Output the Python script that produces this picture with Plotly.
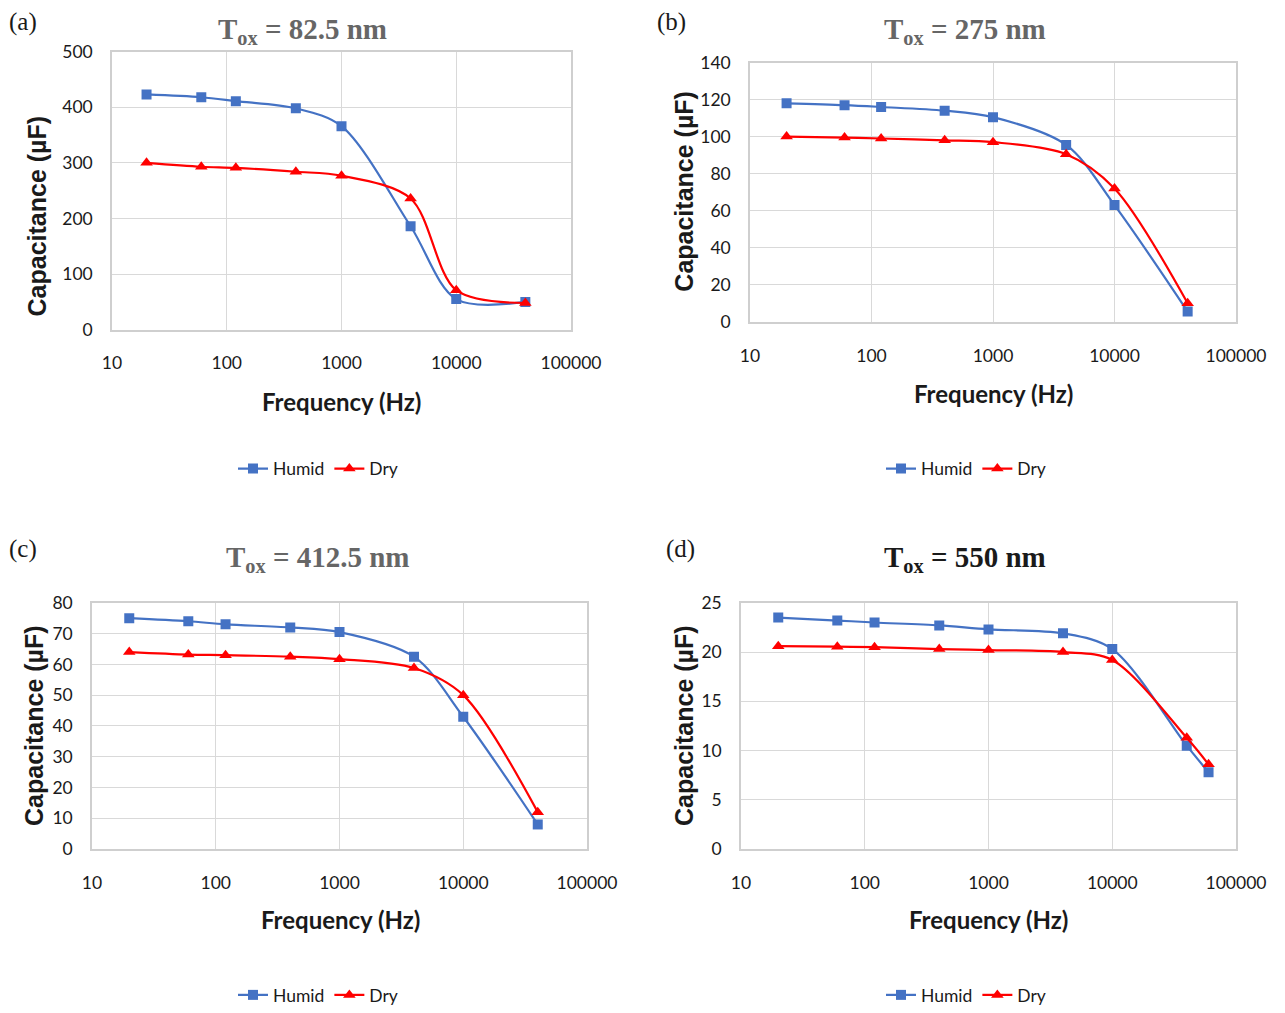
import plotly.graph_objects as go

# Measurement frequencies (Hz)
freq_abc = [20, 60, 120, 400, 1000, 4000, 10000, 40000]
freq_d = [20, 60, 120, 400, 1000, 4000, 10000, 40000, 60000]

# Capacitance (uF) for each oxide thickness
humid_a = [423, 418, 411, 398, 366, 186, 55, 50]
dry_a = [300, 293, 291, 284, 277, 236, 71, 48]

humid_b = [118, 117, 116, 114, 110.5, 95.5, 63, 5.5]
dry_b = [100, 99.5, 99, 98, 97, 90.5, 72, 10]

humid_c = [75, 74, 73, 72, 70.5, 62.5, 43, 8]
dry_c = [64, 63.2, 63, 62.5, 61.7, 58.8, 50, 12]

humid_d = [23.5, 23.2, 23.0, 22.7, 22.3, 21.9, 20.3, 10.5, 7.8]
dry_d = [20.6, 20.55, 20.5, 20.3, 20.2, 20.0, 19.2, 11.3, 8.6]

panel_letters = ["(a)", "(b)", "(c)", "(d)"]
panel_titles = ["82.5 nm", "275 nm", "412.5 nm", "550 nm"]
title_colors = ["#666666", "#666666", "#666666", "#1a1a1a"]
x_tick_vals = [10, 100, 1000, 10000, 100000]
x_tick_text = ["10", "100", "1000", "10000", "100000"]
y_ranges = [(0, 500, 100), (0, 140, 20), (0, 80, 10), (0, 25, 5)]

W, H = 1285, 1013

# Panel geometry in pixels: (left, right, top, bottom)
boxes = [
    (112, 571, 52, 332),
    (750, 1236, 63, 324),
    (92, 587, 607, 855),
    (741, 1236, 607, 855),
]
title_pos = [(302, 31), (965, 31), (317, 563), (965, 563)]
letter_pos = [(23, 22), (671, 22), (23, 553), (680, 553)]
ytitle_pos = [(37, 218), (684, 193), (34, 731), (684, 731)]
xtitle_pos = [(341, 404), (993, 396), (340, 926), (988, 926)]
legend_pos = [(318, 472), (966, 472), (318, 1002), (966, 1002)]

series = [
    (freq_abc, humid_a, dry_a),
    (freq_abc, humid_b, dry_b),
    (freq_abc, humid_c, dry_c),
    (freq_d, humid_d, dry_d),
]

BLUE = "#4472C4"
RED = "#FF0000"
TICK_FONT = dict(family="Lato", size=17.5, color="#1a1a1a")

fig = go.Figure()
layout = dict(
    width=W, height=H,
    margin=dict(l=0, r=0, t=0, b=0),
    paper_bgcolor="white", plot_bgcolor="white",
    annotations=[],
)


def px(x):
    return x / W


def py(y):
    return 1 - y / H


for i, ((fx, hum, dry), box) in enumerate(zip(series, boxes)):
    n = "" if i == 0 else str(i + 1)
    xa, ya = "x" + n, "y" + n
    leg = "legend" + n
    fig.add_trace(go.Scatter(
        x=fx, y=hum, name="Humid", xaxis=xa, yaxis=ya, legend=leg,
        mode="lines+markers", line=dict(color=BLUE, width=2.2, shape="spline", smoothing=0.9),
        marker=dict(symbol="square", size=10, color=BLUE),
    ))
    fig.add_trace(go.Scatter(
        x=fx, y=dry, name="Dry", xaxis=xa, yaxis=ya, legend=leg,
        mode="lines+markers", line=dict(color=RED, width=2.2, shape="spline", smoothing=0.9),
        marker=dict(symbol="triangle-up", size=11, color=RED),
    ))
    l, r, t, b = box
    y0, y1, dy = y_ranges[i]
    layout["xaxis" + n] = dict(
        type="log", range=[1, 5], domain=[px(l), px(r)], anchor=ya, automargin=False,
        tickvals=x_tick_vals, ticktext=x_tick_text, tickfont=TICK_FONT,
        ticklabelstandoff=17, ticks="",
        showgrid=True, gridcolor="#d9d9d9", gridwidth=1,
        showline=True, linecolor="#cfcfcf", linewidth=1.5, mirror=True, zeroline=False,
    )
    layout["yaxis" + n] = dict(
        range=[y0, y1], domain=[py(b), py(t)], anchor=xa, automargin=False,
        tickmode="linear", tick0=0, dtick=dy, tickfont=TICK_FONT,
        ticklabelstandoff=14, ticks="",
        showgrid=True, gridcolor="#d9d9d9", gridwidth=1,
        showline=True, linecolor="#cfcfcf", linewidth=1.5, mirror=True, zeroline=False,
    )
    lx, ly = legend_pos[i]
    layout[leg] = dict(
        orientation="h", x=px(lx), y=py(ly), xanchor="center", yanchor="middle",
        font=dict(family="Lato", size=17.5, color="#1a1a1a"), bgcolor="rgba(0,0,0,0)",
        itemwidth=30, tracegroupgap=0,
    )
    tx, ty = title_pos[i]
    layout["annotations"].append(dict(
        text="<b>T<sub>ox</sub> = " + panel_titles[i] + "</b>", x=px(tx), y=py(ty),
        xref="paper", yref="paper", showarrow=False, xanchor="center", yanchor="middle",
        font=dict(family="Liberation Serif", size=29, color=title_colors[i]),
    ))
    cx, cy = letter_pos[i]
    layout["annotations"].append(dict(
        text=panel_letters[i], x=px(cx), y=py(cy), xref="paper", yref="paper",
        showarrow=False, xanchor="center", yanchor="middle",
        font=dict(family="Liberation Serif", size=25, color="#1a1a1a"),
    ))
    ax_, ay_ = ytitle_pos[i]
    layout["annotations"].append(dict(
        text="<b>Capacitance (µF)</b>", x=px(ax_), y=py(ay_), xref="paper", yref="paper",
        showarrow=False, xanchor="center", yanchor="middle", textangle=-90,
        font=dict(family="Liberation Sans", size=25, color="#1a1a1a"),
    ))
    bx, by = xtitle_pos[i]
    layout["annotations"].append(dict(
        text="<b>Frequency (Hz)</b>", x=px(bx), y=py(by), xref="paper", yref="paper",
        showarrow=False, xanchor="center", yanchor="middle",
        font=dict(family="Lato", size=24, color="#1a1a1a"),
    ))

fig.update_layout(**layout)
fig.write_html("out.html")
